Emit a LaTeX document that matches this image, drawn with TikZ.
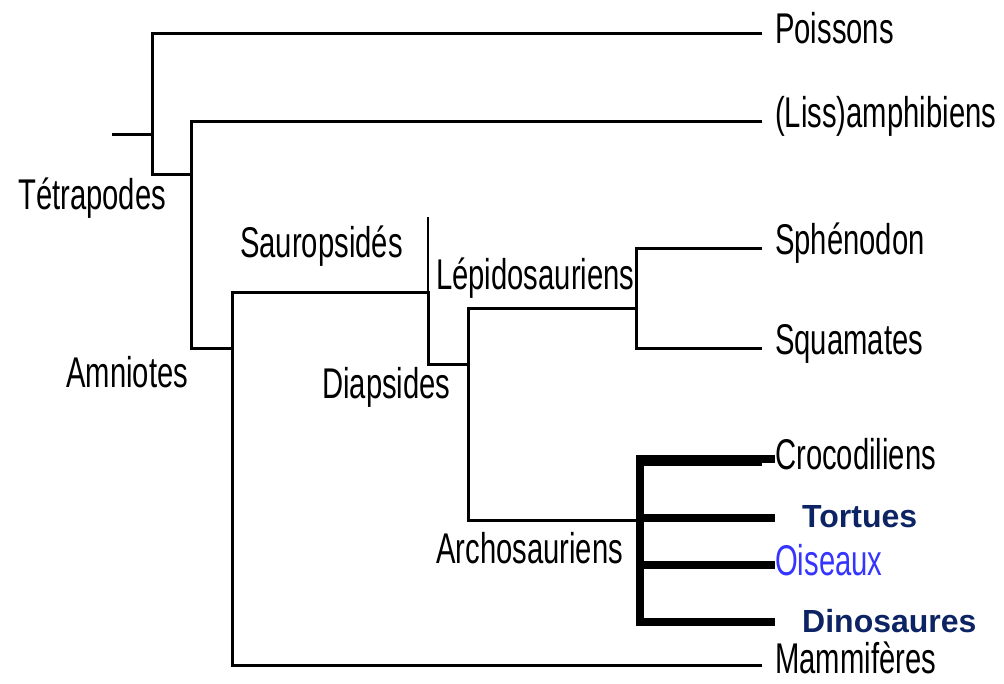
\documentclass[tikz,border=0pt]{standalone}
\usepackage{fontspec}
\setmainfont{Liberation Sans}[FakeStretch=0.68]
\newfontfamily\widesans{Liberation Sans}
\usetikzlibrary{positioning}
\definecolor{navy}{HTML}{0C2463}
\definecolor{birdblue}{HTML}{3535FF}

\begin{document}
\begin{tikzpicture}[x=1pt, y=-1pt, line join=miter,
    branch/.style={line width=3pt},
    bold branch/.style={line width=8.5pt},
    taxon/.style={anchor=west, inner sep=0pt, font=\fontsize{43}{48}\selectfont},
    tip/.style={taxon, yshift=4.5pt},
    group/.style={taxon, yshift=1pt, text=navy, font=\widesans\bfseries\fontsize{32}{36}\selectfont}]
    \useasboundingbox (0,0) rectangle (1004,683);

    % junctions
    \coordinate (root) at (112,134);
    \coordinate (tet) at (152,174);
    \coordinate (amn) at (191,348);
    \coordinate (sau) at (232,292);
    \coordinate (dia) at (428,364);
    \coordinate (hair) at (428,217);
    \coordinate (lep) at (468,308);
    \coordinate (sq) at (636,308);
    \coordinate (arc) at (640,520);

    % tips
    \coordinate (poi) at (762,33);
    \coordinate (amp) at (762,121);
    \coordinate (sph) at (762,248);
    \coordinate (squ) at (762,348);
    \coordinate (croT) at (762,464);
    \coordinate (cro) at (775,459);
    \coordinate (tor) at (775,518);
    \coordinate (ois) at (775,565);
    \coordinate (din) at (775,622);
    \coordinate (mam) at (762,665);

    \draw[branch] (root) -- (root -| tet);
    \draw[branch] (poi) -| (tet) -- (tet -| amn);
    \draw[branch] (amp) -| (amn) -- (amn -| sau);
    \draw[branch] (mam) -| (sau) -| (dia) -- (dia -| lep);
    \draw[line width=1.2pt] (hair) -- (sau -| dia);
    \draw[branch] (arc) -| (lep) -- (sq);
    \draw[branch] (sph) -| (sq) |- (squ);
    \draw[branch] (croT -| arc) -- (croT);
    \draw[bold branch] (cro) -| (din -| arc) -- (din);
    \draw[bold branch] (tor -| arc) -- (tor);
    \draw[bold branch] (ois -| arc) -- (ois);

    \node[tip, right=13pt of poi] (poissons) {Poissons};
    \node[tip, right=13pt of amp] (amphibiens) {(Liss)amphibiens};
    \node[tip, right=13pt of sph] (sphenodon) {Sphénodon};
    \node[tip, right=13pt of squ] (squamates) {Squamates};
    \node[tip, right=0pt of cro] (crocodiliens) {Crocodiliens};
    \node[group, right=27pt of tor] (tortues) {Tortues};
    \node[tip, text=birdblue, right=0pt of ois] (oiseaux) {Oiseaux};
    \node[group, right=27pt of din] (dinosaures) {Dinosaures};
    \node[tip, yshift=3pt, right=13pt of mam] (mammiferes) {Mammifères};

    \node[taxon] (tetrapodes) at (18,198) {Tétrapodes};
    \node[taxon] (amniotes) at (66,372) {Amniotes};
    \node[taxon] (sauropsides) at (240,246) {Sauropsidés};
    \node[taxon] (lepidosauriens) at (436,278) {Lépidosauriens};
    \node[taxon] (diapsides) at (322,387) {Diapsides};
    \node[taxon] (archosauriens) at (436,548) {Archosauriens};
\end{tikzpicture}
\end{document}
